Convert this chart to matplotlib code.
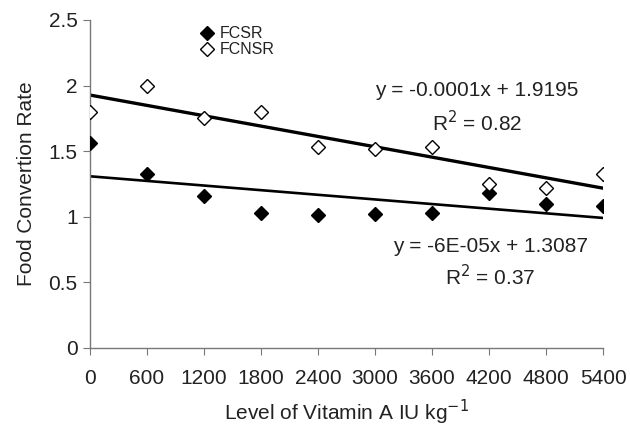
import matplotlib
matplotlib.use("Agg")
import matplotlib.pyplot as plt
import numpy as np

plt.rcParams['font.family'] = ['Liberation Sans', 'DejaVu Sans']

# vitamin A levels (IU/kg) and food conversion rates
vit_a = [0, 600, 1200, 1800, 2400, 3000, 3600, 4200, 4800, 5400]
fcsr = [1.56, 1.33, 1.16, 1.03, 1.01, 1.02, 1.03, 1.18, 1.10, 1.08]
fcnsr = [1.80, 2.00, 1.75, 1.80, 1.53, 1.52, 1.53, 1.25, 1.22, 1.33]
xticks = [0, 600, 1200, 1800, 2400, 3000, 3600, 4200, 4800, 5400]
yticks = [0, 0.5, 1, 1.5, 2, 2.5]
ytick_labels = ["0", "0.5", "1", "1.5", "2", "2.5"]

txt = "#222222"
fs = 15
fig = plt.figure(figsize=(6.3, 4.3), dpi=100)
ax = fig.add_axes([0.1429, 0.1907, 0.8143, 0.7628])

x = np.array(vit_a)
# linear trendlines (least squares, like the spreadsheet trendline)
for ys, lw in [(fcnsr, 2.4), (fcsr, 1.9)]:
    k, b = np.polyfit(x, ys, 1)
    ax.plot(x, k * x + b, color="black", lw=lw, zorder=2)

ax.plot(vit_a, fcsr, ls="none", marker="D", ms=7.5, mfc="black", mec="black",
        label="FCSR", zorder=3)
ax.plot(vit_a, fcnsr, ls="none", marker="D", ms=7.5, mfc="white", mec="black",
        mew=1.0, label="FCNSR", zorder=3)

ax.set_xlim(0, 5400)
ax.set_ylim(0, 2.5)
ax.set_xticks(xticks)
ax.set_xticklabels([str(v) for v in xticks])
ax.set_yticks(yticks)
ax.set_yticklabels(ytick_labels)

for side in ["top", "right"]:
    ax.spines[side].set_visible(False)
for side in ["left", "bottom"]:
    ax.spines[side].set_color("#777777")
    ax.spines[side].set_linewidth(1.0)
    ax.spines[side].set_clip_on(False)
ax.tick_params(axis="both", colors="#777777", labelcolor=txt, labelsize=fs,
               length=5, direction="out")
ax.tick_params(axis="x", pad=10)
ax.tick_params(axis="y", pad=4)

ax.set_xlabel("Level of Vitamin A IU kg$^{-1}$", fontsize=fs, color=txt, labelpad=7)
ax.set_ylabel("Food Convertion Rate", fontsize=fs, color=txt, labelpad=9)

ax.text(4074, 1.966, "y = -0.0001x + 1.9195", fontsize=fs, color=txt,
        ha="center", va="center")
ax.text(4074, 1.715, "R$^2$ = 0.82", fontsize=fs, color=txt,
        ha="center", va="center")
ax.text(4211, 0.777, "y = -6E-05x + 1.3087", fontsize=fs, color=txt,
        ha="center", va="center")
ax.text(4211, 0.541, "R$^2$ = 0.37", fontsize=fs, color=txt,
        ha="center", va="center")

ax.legend(loc="upper left", bbox_to_anchor=(0.2, 1.0), frameon=False,
          fontsize=11.5, handletextpad=0.3, labelspacing=0.05,
          handlelength=1.0, borderaxespad=0, labelcolor=txt)

fig.savefig("out.png", dpi=100)
